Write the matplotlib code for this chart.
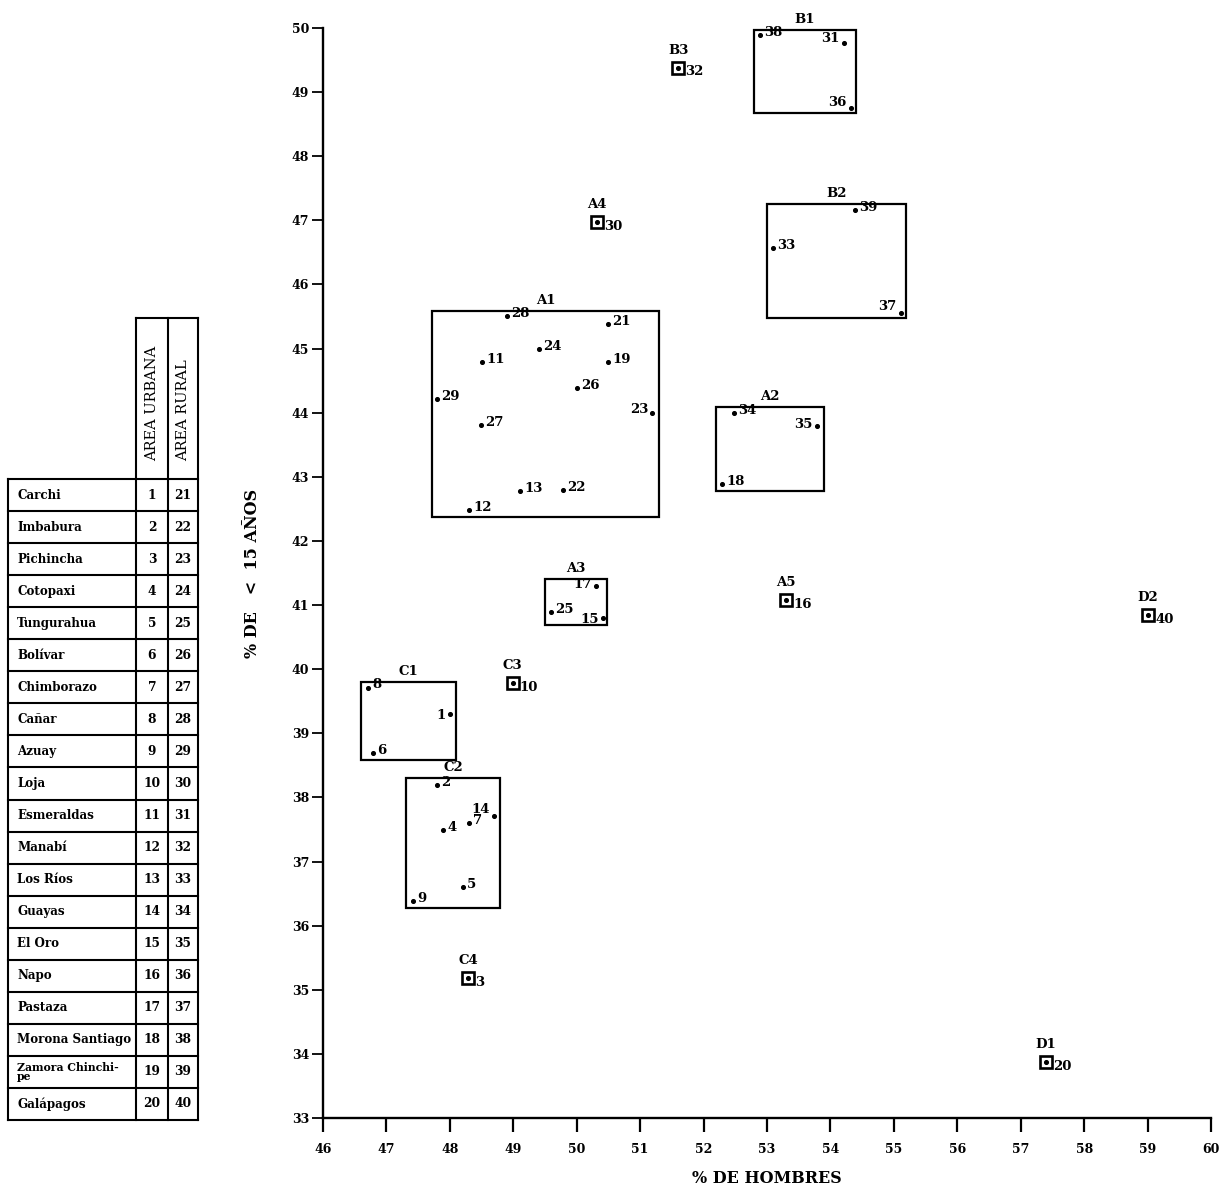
import numpy as np
import matplotlib
matplotlib.use("Agg")
import matplotlib.pyplot as plt
from matplotlib.patches import Rectangle

plt.rcParams["font.family"] = ["DejaVu Serif"]
plt.rcParams["font.weight"] = "bold"
plt.rcParams["axes.labelweight"] = "bold"

# provincias (1-20 area urbana, 21-40 area rural)
provincias = ["Carchi", "Imbabura", "Pichincha", "Cotopaxi", "Tungurahua", "Bolívar",
              "Chimborazo", "Cañar", "Azuay", "Loja", "Esmeraldas", "Manabí",
              "Los Ríos", "Guayas", "El Oro", "Napo", "Pastaza", "Morona Santiago",
              "Zamora Chinchi-\npe", "Galápagos"]
num_urbana = list(range(1, 21))
num_rural = list(range(21, 41))

# % de hombres, % < 15 años (puntos 1..40)
hombres = [48.00, 47.80, 48.29, 47.89, 48.21, 46.79, 48.30, 46.71, 47.42, 48.99,
           48.51, 48.30, 49.11, 48.70, 50.41, 53.30, 50.30, 52.29, 50.49, 57.40,
           50.49, 49.78, 51.19, 49.41, 49.59, 50.00, 48.49, 48.90, 47.80, 50.32,
           54.21, 51.60, 53.09, 52.48, 53.79, 54.32, 55.11, 52.89, 54.39, 59.01]
menores15 = [39.30, 38.19, 35.18, 37.49, 36.60, 38.69, 37.60, 39.71, 36.38, 39.78,
             44.79, 42.48, 42.78, 37.71, 40.80, 41.08, 41.30, 42.89, 44.79, 33.87,
             45.38, 42.79, 43.99, 44.99, 40.89, 44.38, 43.81, 45.51, 44.21, 46.97,
             49.77, 49.38, 46.57, 43.99, 43.79, 48.75, 45.55, 49.89, 47.16, 40.84]

# grupos con recuadro: nombre, x0, x1, y0, y1
grupos = ["A1", "A2", "A3", "B1", "B2", "C1", "C2"]
grupo_x0 = [47.72, 52.20, 49.50, 52.79, 53.00, 46.60, 47.31]
grupo_x1 = [51.30, 53.90, 50.48, 54.40, 55.19, 48.10, 48.79]
grupo_y0 = [42.37, 42.78, 40.69, 48.67, 45.48, 38.58, 36.28]
grupo_y1 = [45.59, 44.09, 41.41, 49.97, 47.25, 39.80, 38.30]

# grupos de un solo punto
solos = ["A4", "A5", "B3", "C3", "C4", "D1", "D2"]
solos_punto = [30, 16, 32, 10, 3, 20, 40]

W, H = 1229, 1191
fig = plt.figure(figsize=(W / 100, H / 100), dpi=100)

# ---------------- tabla (coordenadas en pixeles) ----------------
axt = fig.add_axes([0, 0, 1, 1], zorder=0)
axt.set_xlim(0, W)
axt.set_ylim(H, 0)
axt.axis("off")
x_nom, x_u, x_r, x_fin = 8, 136, 168, 198
top_head, top_rows, row_h = 318, 479, 32.05
n = len(provincias)
bottom = top_rows + n * row_h
lw = 1.5
for i in range(n + 1):
    yy = top_rows + i * row_h
    axt.plot([x_nom, x_fin], [yy, yy], color="black", lw=lw)
axt.plot([x_u, x_fin], [top_head, top_head], color="black", lw=lw)
axt.plot([x_nom, x_nom], [top_rows, bottom], color="black", lw=lw)
for xx in [x_u, x_r, x_fin]:
    axt.plot([xx, xx], [top_head, bottom], color="black", lw=lw)
for i, (nom, u, r) in enumerate(zip(provincias, num_urbana, num_rural)):
    yc = top_rows + (i + 0.5) * row_h
    fs = 7.8 if "\n" in nom else 8.6
    axt.text(x_nom + 9, yc, nom, ha="left", va="center", fontsize=fs,
             linespacing=0.75)
    axt.text((x_u + x_r) / 2, yc, str(u), ha="center", va="center", fontsize=8.8)
    axt.text((x_r + x_fin) / 2, yc, str(r), ha="center", va="center", fontsize=8.8)
axt.text((x_u + x_r) / 2, top_rows - 18, "AREA URBANA", rotation=90, ha="center",
         va="bottom", fontsize=10.5, fontweight="normal")
axt.text((x_r + x_fin) / 2, top_rows - 18, "AREA RURAL", rotation=90, ha="center",
         va="bottom", fontsize=10.5, fontweight="normal")

# ---------------- grafico ----------------
ax = fig.add_axes([323 / W, 1 - 1118 / H, (1211 - 323) / W, (1118 - 28) / H], zorder=1)
ax.patch.set_alpha(0)
ax.set_xlim(46, 60)
ax.set_ylim(33, 50)
ax.set_xticks(np.arange(46, 61, 1))
ax.set_yticks(np.arange(33, 51, 1))
for s in ["top", "right"]:
    ax.spines[s].set_visible(False)
for s in ["left", "bottom"]:
    ax.spines[s].set_linewidth(1.7)
ax.tick_params(axis="x", direction="out", length=10, width=1.6, pad=8, labelsize=9)
ax.tick_params(axis="y", direction="out", length=8, width=1.3, pad=2, labelsize=9)
ax.set_xlabel("% DE HOMBRES", fontsize=11.5, labelpad=10)
ax.set_ylabel("% DE   <  15 AÑOS", fontsize=11.5, labelpad=22)

ax.scatter(hombres, menores15, s=7, color="black", zorder=3)

# desplazamiento de etiquetas (puntos)
izq = {1: (-3, -1), 14: (-3, 5), 15: (-3, -1), 17: (-3, 1), 23: (-3, 3),
       31: (-3, 3), 35: (-3, 1), 36: (-3, 4), 37: (-3, 5)}
solo_set = set(solos_punto)
for k, (xv, yv) in enumerate(zip(hombres, menores15), start=1):
    if k in solo_set:
        continue
    if k in izq:
        dx, dy = izq[k]
        ha = "right"
    else:
        dx, dy = 3, 2
        ha = "left"
    ax.annotate(str(k), (xv, yv), xytext=(dx, dy), textcoords="offset points",
                ha=ha, va="center", fontsize=9.5)

for g, a, b, c, d in zip(grupos, grupo_x0, grupo_x1, grupo_y0, grupo_y1):
    ax.add_patch(Rectangle((a, c), b - a, d - c, fill=False, lw=1.6,
                           edgecolor="black", zorder=2))
    ax.annotate(g, ((a + b) / 2, d), xytext=(0, 3), textcoords="offset points",
                ha="center", va="bottom", fontsize=9.5)

for g, p in zip(solos, solos_punto):
    xv, yv = hombres[p - 1], menores15[p - 1]
    ax.plot(xv, yv, marker="s", ms=9, mfc="none", mec="black", mew=1.9, zorder=3)
    ax.annotate(str(p), (xv, yv), xytext=(5, -3), textcoords="offset points",
                ha="left", va="center", fontsize=9.5)
    ax.annotate(g, (xv, yv), xytext=(0, 8), textcoords="offset points",
                ha="center", va="bottom", fontsize=9.5)

fig.savefig("out.png", dpi=100)
